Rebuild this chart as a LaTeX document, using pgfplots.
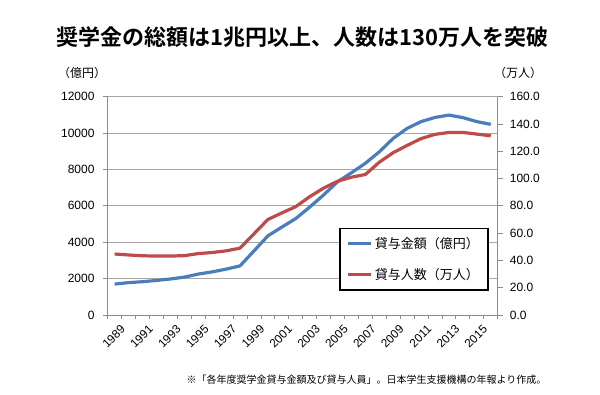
\documentclass[border=0pt]{standalone}
\usepackage{fontspec}
\setmainfont{Liberation Sans}
\newfontfamily\cjk[BoldFont={Noto Sans CJK JP Bold}]{Noto Sans CJK JP}
\usepackage{pgfplots}
\pgfplotsset{compat=1.18}
\usepackage{pgfplotstable}
\definecolor{xlblue}{HTML}{4A7EBB}
\definecolor{xlred}{HTML}{BE4B48}
\definecolor{gridgray}{HTML}{A6A6A6}
\definecolor{axgray}{HTML}{8C8C8C}

\pgfplotstableread{
year amount people
1989 1700 44.7
1990 1780 44.0
1991 1830 43.4
1992 1900 43.2
1993 1980 43.2
1994 2080 43.5
1995 2250 45.0
1996 2370 45.8
1997 2520 47.0
1998 2700 49.0
1999 3520 59.5
2000 4350 70.0
2001 4830 74.8
2002 5300 79.4
2003 5930 86.7
2004 6600 93.0
2005 7320 98.0
2006 7820 101.0
2007 8340 103.0
2008 8970 112.0
2009 9710 119.0
2010 10260 124.3
2011 10630 129.3
2012 10860 132.4
2013 10990 133.8
2014 10850 133.8
2015 10630 132.6
2016 10480 131.3
}\datatable

\begin{document}
\begin{tikzpicture}[x=1pt,y=1pt]
\pgfplotsset{
  common/.style={
    scale only axis, width=390pt, height=218.3pt,
    at={(107.7pt,79pt)}, anchor=south west,
    xmin=1988.5, xmax=2016.5,
    clip=false,
    major tick length=5pt,
    tick style={axgray, line width=0.8pt},
    axis line style={axgray, line width=0.8pt},
    ticklabel style={font=\fontsize{12}{14}\selectfont},
  }
}
\begin{axis}[common,
  axis x line*=bottom, axis y line*=left,
  ymin=0, ymax=12000, ytick={0,2000,...,12000},
  scaled y ticks=false,
  yticklabel={\pgfmathprintnumber[fixed,1000 sep={},assume math mode=true]{\tick}},
  yticklabel style={inner sep=0pt, xshift=-8pt, anchor=east},
  ymajorgrids, grid style={gridgray, line width=0.8pt},
  tick align=outside,
  xtick={1989,1991,...,2015},
  xticklabels={1989,1991,1993,1995,1997,1999,2001,2003,2005,2007,2009,2011,2013,2015},
  x tick style={draw=none},
  minor xtick={1988.5,1989.5,...,2016.5},
  minor x tick style={draw=axgray, line width=0.8pt},
  minor tick length=4pt,
  xticklabel style={rotate=45, anchor=east, inner sep=0pt, xshift=1pt, yshift=-11pt, font=\fontsize{11.8}{13}\selectfont},
]
\addplot[xlblue, line width=3.2pt, line join=round] table[x=year, y=amount] {\datatable};
\end{axis}
\begin{axis}[common,
  axis x line=none, axis y line*=right,
  ymin=0, ymax=160, ytick={0,20,...,160},
  yticklabel={\pgfmathprintnumber[fixed,fixed zerofill,precision=1,assume math mode=true]{\tick}},
  yticklabel style={inner sep=0pt, xshift=7pt, anchor=west},
  tick align=outside,
  legend image code/.code={\draw[#1] (0pt,0pt) -- (23pt,0pt);},
  legend style={at={(0.593,0.40)}, anchor=north west, draw=black, line width=1.6pt,
    fill=white, inner xsep=7pt, inner ysep=7pt, row sep=14pt,
    font=\cjk\fontsize{13}{15}\selectfont, legend cell align=left},
]
\addlegendimage{xlblue, line width=3.2pt}
\addlegendentry{貸与金額（億円）}
\addplot[xlred, line width=3.2pt, line join=round] table[x=year, y=people] {\datatable};
\addlegendentry{貸与人数（万人）}
\end{axis}
\node[font=\cjk\bfseries\fontsize{22}{26}\selectfont] at (302.5,357) {奨学金の総額は1兆円以上、人数は130万人を突破};
\node[font=\cjk\fontsize{12}{14}\selectfont] at (82,320.7) {（億円）};
\node[font=\cjk\fontsize{12}{14}\selectfont] at (518,321) {（万人）};
\node[font=\cjk\fontsize{10}{12}\selectfont] at (366.5,14) {※「各年度奨学金貸与金額及び貸与人員」。日本学生支援機構の年報より作成。};
\pgfresetboundingbox
\path[use as bounding box] (0,0) rectangle (600,394);
\end{tikzpicture}
\end{document}
